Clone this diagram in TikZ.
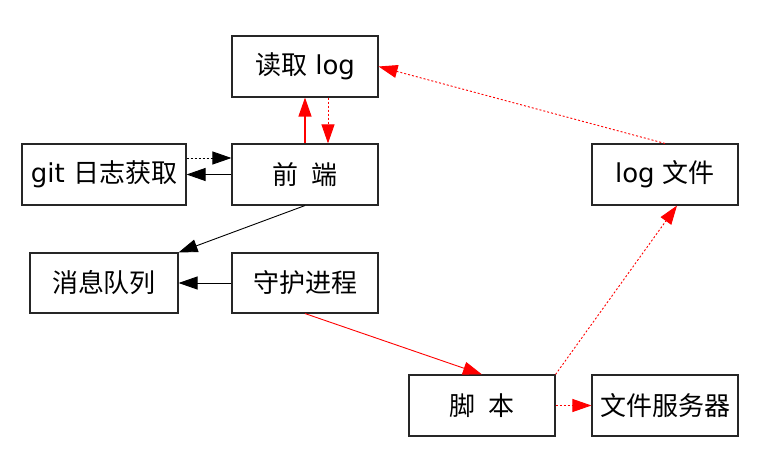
\documentclass[tikz,border=0pt]{standalone}
\usepackage{fontspec}
\setmainfont{DejaVu Sans}
\newfontfamily\cjk{Noto Sans CJK SC}
\usetikzlibrary{arrows.meta}
\begin{document}
\begin{tikzpicture}[x=1pt,y=-1pt,
  box/.style={draw=black!85, line width=1.1pt, rectangle, inner sep=0pt,
    minimum width=146pt, minimum height=61pt, font=\fontsize{26}{30}\selectfont},
  tip/.style={-{Triangle[length=19pt,width=13pt]}},
  link/.style={tip, color=black, line width=0.9pt},
  redlink/.style={tip, color=red, line width=0.9pt},
  dots/.style={dash pattern=on 2pt off 2pt}]
\useasboundingbox (0,0) rectangle (777,473);
\fill[white] (0,0) rectangle (777,473);

\node[box] (read)   at (305,66.5)  {{\cjk 读取} log};
\node[box, minimum width=164pt] (git) at (104,174.5) {git {\cjk 日志获取}};
\node[box] (front)  at (305,174.5) {{\cjk 前\hspace{0.5em}端}};
\node[box, minimum width=148pt, minimum height=60pt] (mq) at (104,283) {{\cjk 消息队列}};
\node[box, minimum height=60pt] (daemon) at (305,283) {{\cjk 守护进程}};
\node[box] (logf)   at (665,174.5) {log {\cjk 文件}};
\node[box] (script) at (482,405.5) {{\cjk 脚\hspace{0.5em}本}};
\node[box] (fs)     at (665,405.5) {{\cjk 文件服务器}};

\draw[redlink, draw=red, line width=1.2pt] (front.north) -- (read.south);
\draw[redlink, dots] ([xshift=23pt]read.south) -- ([xshift=23pt]front.north);
\draw[link, dots] ([yshift=16.5pt]git.east) -- ([yshift=16.5pt]front.west);
\draw[link] (front.west) -- (git.east);
\draw[link] (front.south) -- (mq.north east);
\draw[link] (daemon.west) -- (mq.east);
\draw[redlink] (daemon.south) -- (script.north);
\draw[redlink, dots] (script.north east) -- ([xshift=12pt]logf.south);
\draw[redlink, dots] (script.east) -- (fs.west);
\draw[redlink, dots] (logf.north) -- (read.east);
\end{tikzpicture}
\end{document}
